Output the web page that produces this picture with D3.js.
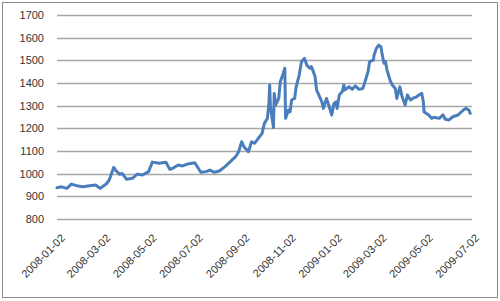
<!DOCTYPE html>
<html>
<head>
<meta charset="utf-8">
<script src="https://cdn.jsdelivr.net/npm/d3@7"></script>
<style>
  body { margin: 0; background: #fff; }
  text { font-family: "Liberation Sans", Arial, sans-serif; fill: #333; }
</style>
</head>
<body>
<div id="chart"></div>
<script>
// Values
var dates = [
    "2008-01-02", "2008-01-08", "2008-01-15", "2008-01-21", "2008-01-28", "2008-02-05", "2008-02-14",
    "2008-02-22", "2008-02-28", "2008-03-07", "2008-03-11", "2008-03-17", "2008-03-20", "2008-03-25",
    "2008-03-28", "2008-04-03", "2008-04-11", "2008-04-17", "2008-04-24", "2008-05-02", "2008-05-07",
    "2008-05-16", "2008-05-25", "2008-05-30", "2008-06-03", "2008-06-10", "2008-06-16", "2008-06-23",
    "2008-07-02", "2008-07-04", "2008-07-10", "2008-07-17", "2008-07-22", "2008-07-28", "2008-08-04",
    "2008-08-11", "2008-08-18", "2008-08-25", "2008-08-29", "2008-09-02", "2008-09-05", "2008-09-11",
    "2008-09-15", "2008-09-19", "2008-09-24", "2008-09-29", "2008-10-02", "2008-10-06", "2008-10-08",
    "2008-10-09", "2008-10-10", "2008-10-14", "2008-10-15", "2008-10-17", "2008-10-21", "2008-10-23",
    "2008-10-27", "2008-10-29", "2008-10-30", "2008-11-03", "2008-11-05", "2008-11-07", "2008-11-11",
    "2008-11-13", "2008-11-17", "2008-11-20", "2008-11-24", "2008-11-27", "2008-12-01", "2008-12-03",
    "2008-12-05", "2008-12-08", "2008-12-10", "2008-12-12", "2008-12-17", "2008-12-19", "2008-12-23",
    "2008-12-26", "2008-12-30", "2009-01-02", "2009-01-05", "2009-01-06", "2009-01-09", "2009-01-13",
    "2009-01-15", "2009-01-16", "2009-01-22", "2009-01-26", "2009-01-30", "2009-02-04", "2009-02-09",
    "2009-02-12", "2009-02-16", "2009-02-18", "2009-02-23", "2009-02-24", "2009-02-27", "2009-03-02",
    "2009-03-05", "2009-03-06", "2009-03-09", "2009-03-11", "2009-03-13", "2009-03-17", "2009-03-20",
    "2009-03-24", "2009-03-26", "2009-03-30", "2009-04-02", "2009-04-06", "2009-04-09", "2009-04-13",
    "2009-04-16", "2009-04-21", "2009-04-24", "2009-04-28", "2009-04-30", "2009-05-01", "2009-05-07",
    "2009-05-11", "2009-05-14", "2009-05-21", "2009-05-26", "2009-05-29", "2009-06-03", "2009-06-08",
    "2009-06-15", "2009-06-22", "2009-06-25", "2009-06-29", "2009-07-01"
];
var values = [
    938, 942, 935, 954, 947, 942, 947,
    950, 935, 954, 972, 1028, 1013, 997,
    1001, 975, 980, 998, 994, 1009, 1051,
    1046, 1050, 1019, 1024, 1038, 1034, 1043,
    1048, 1038, 1006, 1009, 1016, 1006, 1013,
    1031, 1053, 1075, 1097, 1141, 1119, 1097,
    1141, 1134, 1156, 1178, 1222, 1244, 1310,
    1391, 1295, 1204, 1354, 1303, 1332, 1406,
    1443, 1465, 1244, 1281, 1273, 1325, 1332,
    1383, 1435, 1494, 1509, 1479, 1465, 1472,
    1457, 1428, 1369, 1354, 1317, 1288, 1332,
    1303, 1259, 1310, 1317, 1288, 1347, 1362,
    1391, 1369, 1383, 1372, 1387, 1372, 1376,
    1406, 1450, 1494, 1501, 1523, 1553, 1567,
    1560, 1538, 1487, 1494, 1457, 1413, 1391,
    1376, 1332, 1383, 1339, 1303, 1347, 1325,
    1332, 1339, 1347, 1354, 1317, 1273, 1259,
    1244, 1249, 1244, 1259, 1240, 1237, 1251,
    1259, 1281, 1288, 1281, 1266
];
var yTicks = [800, 900, 1000, 1100, 1200, 1300, 1400, 1500, 1600, 1700];
var xTickLabels = ["2008-01-02", "2008-03-02", "2008-05-02", "2008-07-02", "2008-09-02",
    "2008-11-02", "2009-01-02", "2009-03-02", "2009-05-02", "2009-07-02"];

var parseDate = d3.timeParse("%Y-%m-%d");
var data = dates.map(function (d, i) { return { date: parseDate(d), value: values[i] }; });

var width = 500, height = 301;

var svg = d3.select("#chart")
    .append("svg")
    .attr("width", width)
    .attr("height", height);

// Chart area border
svg.append("rect")
    .attr("x", 2.5)
    .attr("y", 2.5)
    .attr("width", 495)
    .attr("height", 295)
    .style("fill", "#fff")
    .style("stroke", "#8c8c8c")
    .style("stroke-width", 1);

// Scales
var xScale = d3.scaleTime()
    .domain([parseDate("2008-01-02"), parseDate("2009-07-02")])
    .range([57, 471]);
var yScale = d3.scaleLinear().domain([800, 1700]).range([219, 15]);

// Gridlines
svg.append("g")
    .selectAll("line")
    .data(yTicks)
    .enter()
    .append("line")
    .attr("x1", 57)
    .attr("x2", 472)
    .attr("y1", function (d) { return Math.round(yScale(d)) + 0.5; })
    .attr("y2", function (d) { return Math.round(yScale(d)) + 0.5; })
    .style("stroke", "#a6a6a6")
    .style("stroke-width", 1.5);

// Y axis labels
svg.append("g")
    .selectAll("text")
    .data(yTicks)
    .enter()
    .append("text")
    .attr("x", 44)
    .attr("y", function (d) { return yScale(d); })
    .attr("dy", "0.36em")
    .attr("text-anchor", "end")
    .style("font-size", "11px")
    .text(function (d) { return d; });

// X axis labels, rotated
svg.append("g")
    .selectAll("text")
    .data(xTickLabels)
    .enter()
    .append("text")
    .attr("transform", function (d) {
        return "translate(" + (xScale(parseDate(d)) + 6) + ",236) rotate(-45)";
    })
    .attr("dy", "0.35em")
    .attr("text-anchor", "end")
    .style("font-size", "11px")
    .text(function (d) { return d; });

// The line
var line = d3.line()
    .x(function (d) { return xScale(d.date); })
    .y(function (d) { return yScale(d.value); });

svg.append("path")
    .datum(data)
    .attr("d", line)
    .style("fill", "none")
    .style("stroke", "#4a7ebb")
    .style("stroke-width", 3)
    .style("stroke-linejoin", "round")
    .style("stroke-linecap", "round");
</script>
</body>
</html>
